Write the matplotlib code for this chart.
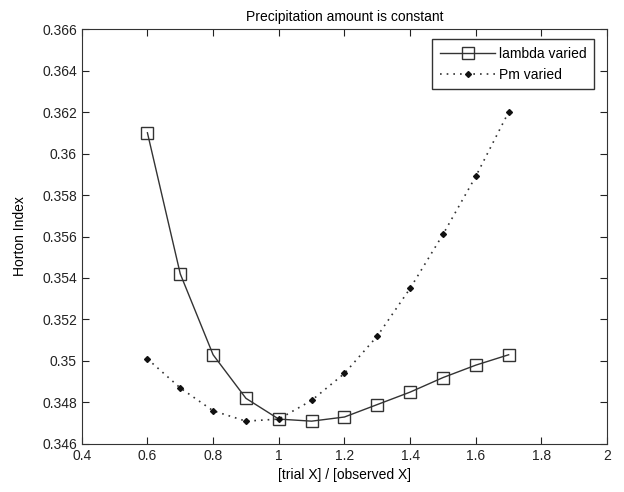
import numpy as np
import matplotlib.pyplot as plt

plt.rcParams['font.family'] = ['Liberation Sans', 'DejaVu Sans']

ratio = [0.6, 0.7, 0.8, 0.9, 1.0, 1.1, 1.2, 1.3, 1.4, 1.5, 1.6, 1.7]
lambda_varied = [0.3610, 0.3542, 0.3503, 0.3482, 0.3472, 0.3471, 0.3473,
                 0.3479, 0.3485, 0.3492, 0.3498, 0.3503]
pm_varied = [0.3501, 0.3487, 0.3476, 0.3471, 0.3472, 0.3481, 0.3494,
             0.3512, 0.3535, 0.3561, 0.3589, 0.3620]

fig = plt.figure(figsize=(6.24, 4.92), dpi=100)
ax = fig.add_axes([0.131, 0.0976, 0.842, 0.8434])
ax.plot(ratio, lambda_varied, '-', color='#333333', lw=1.0, marker='s',
        markersize=8, markerfacecolor='none', markeredgecolor='#333333',
        markeredgewidth=1.0, label='lambda varied')
ax.plot(ratio, pm_varied, color='#333333', lw=1.2, dashes=(1, 3), marker='D',
        markersize=3, markerfacecolor='#111111', markeredgecolor='#111111',
        label='Pm varied')

ax.set_xlim(0.4, 2)
ax.set_ylim(0.346, 0.366)
ax.set_xticks(np.arange(0.4, 2.01, 0.2))
ax.set_xticklabels(['0.4', '0.6', '0.8', '1', '1.2', '1.4', '1.6', '1.8', '2'])
yt = np.arange(0.346, 0.3661, 0.002)
ax.set_yticks(yt)
ax.set_yticklabels(['%g' % round(v, 3) for v in yt])
ax.tick_params(direction='in', top=True, right=True, labelsize=10, length=5,
               colors='#222222')
for s in ax.spines.values():
    s.set_color('#333333')

ax.set_title('Precipitation amount is constant', fontsize=10)
ax.set_xlabel('[trial X] / [observed X]', fontsize=10)
ax.set_ylabel('Horton Index', fontsize=10)
ax.yaxis.set_label_coords(-0.104, 0.5)
leg = ax.legend(loc='upper right', bbox_to_anchor=(0.975, 0.976), fontsize=10,
                fancybox=False, framealpha=1, edgecolor='#333333',
                handlelength=4.0, handletextpad=0.25, borderpad=0.55,
                labelspacing=0.5, borderaxespad=0)
leg.get_frame().set_linewidth(1.0)

fig.savefig('out.png', dpi=100)
